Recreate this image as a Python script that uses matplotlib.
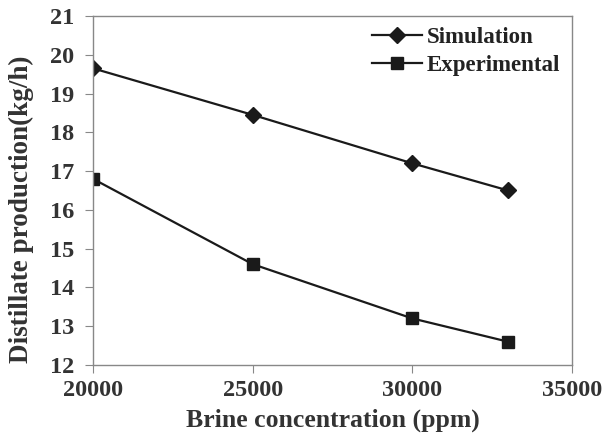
import matplotlib.pyplot as plt

brine = [20000, 25000, 30000, 33000]
simulation = [19.65, 18.45, 17.2, 16.5]
experimental = [16.8, 14.6, 13.2, 12.6]

plt.rcParams['font.family'] = 'Liberation Serif'
plt.rcParams['font.weight'] = 'bold'

fig = plt.figure(figsize=(6.05, 4.38), dpi=100)
ax = fig.add_axes([0.1537, 0.1667, 0.7918, 0.7968])

ax.plot(brine, simulation, color='#1a1a1a', lw=1.6, marker='D', ms=8.5, label='Simulation')
ax.plot(brine, experimental, color='#1a1a1a', lw=1.6, marker='s', ms=8.5, label='Experimental')

ax.set_xlim(20000, 35000)
ax.set_ylim(12, 21)
ax.set_xticks([20000, 25000, 30000, 35000])
ax.set_yticks(range(12, 22))

for s in ax.spines.values():
    s.set_color('#888888')
    s.set_linewidth(1.0)
ax.tick_params(direction='out', length=5.5, color='#888888', labelsize=17.5,
               labelcolor='#333333')
ax.tick_params(axis='y', pad=8)
ax.tick_params(axis='x', pad=5)
for lbl in ax.get_xticklabels() + ax.get_yticklabels():
    lbl.set_fontweight('bold')

ax.set_xlabel('Brine concentration (ppm)', fontsize=18.5, fontweight='bold', color='#333333', labelpad=6)
ax.set_ylabel('Distillate production(kg/h)', fontsize=19.5, fontweight='bold', color='#333333')
ax.yaxis.set_label_coords(-0.124, 0.447)

ax.legend(loc='upper right', frameon=False, handlelength=2.2,
          borderaxespad=0.0, borderpad=0.5, labelspacing=0.3, handletextpad=0.2,
          bbox_to_anchor=(1.0, 1.0),
          labelcolor='#222222', prop={'weight': 'bold', 'size': 16.5})

fig.savefig('out.png', dpi=100)
